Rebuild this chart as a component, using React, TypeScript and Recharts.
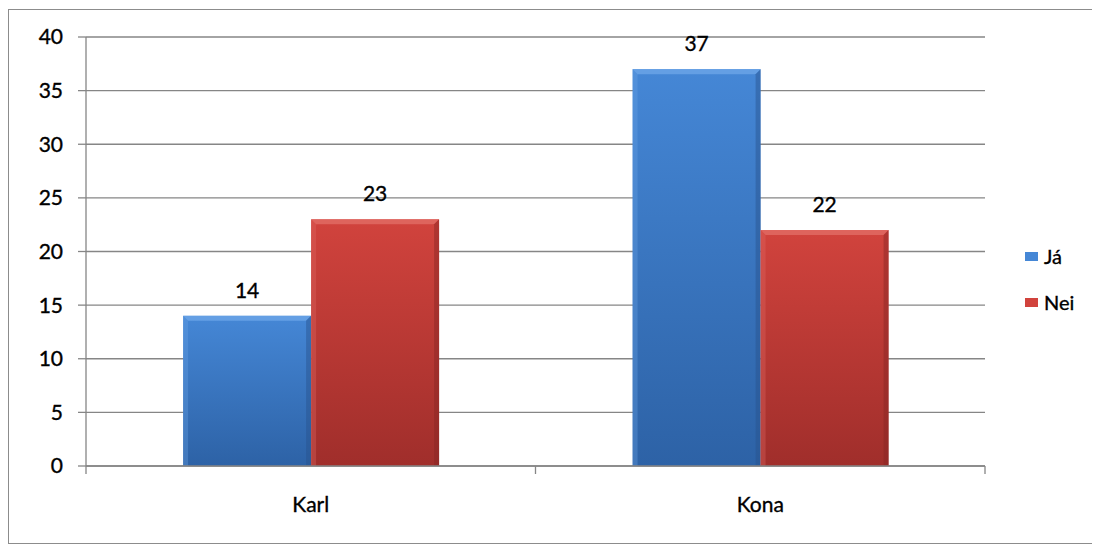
import React from "react";
import { BarChart, Bar, XAxis, YAxis, CartesianGrid, LabelList } from "recharts";

const categories = ["Karl", "Kona"];
const jaValues = [14, 37];
const neiValues = [23, 22];
const yTicks = [0, 5, 10, 15, 20, 25, 30, 35, 40];
const boundaryTicks = [0, 1, 2];
const seriesNames = ["Já", "Nei"];

const data = categories.map((c, i) => ({ name: c, ja: jaValues[i], nei: neiValues[i], pos: i + 0.5 }));

const FONT = "Lato, 'Open Sans', sans-serif";
const AXIS = "#868686";
const FS = 21;

const palettes: Record<string, { top: string; bottom: string; light: string; dark: string }> = {
  ja: { top: "#4587d6", bottom: "#2d62a6", light: "#6aa3e6", dark: "#27538c" },
  nei: { top: "#d1433d", bottom: "#a02e2b", light: "#e06a63", dark: "#862523" },
};

const makeShape = (key: string) => (props: any) => {
  const { x, y, width, height } = props;
  const p = palettes[key];
  const b = Math.min(5, width / 4, height / 4);
  return (
    <g>
      <rect x={x} y={y} width={width} height={height} fill={`url(#grad-${key})`} />
      <polygon points={`${x},${y} ${x + width},${y} ${x + width - b},${y + b} ${x + b},${y + b}`} fill={p.light} opacity={0.85} />
      <polygon points={`${x},${y} ${x + b},${y + b} ${x + b},${y + height} ${x},${y + height}`} fill={p.light} opacity={0.35} />
      <polygon points={`${x + width},${y} ${x + width - b},${y + b} ${x + width - b},${y + height} ${x + width},${y + height}`} fill={p.dark} opacity={0.45} />
    </g>
  );
};

const legendColors = [palettes.ja.top, palettes.nei.top];
const textStyle = { fill: "#000", fontSize: FS, fontFamily: FONT, stroke: "#000", strokeWidth: 0.35 };

export default function App() {
  return (
    <div
      style={{
        position: "relative",
        width: 1090,
        height: 533,
        marginTop: 1,
        border: "1px solid #8c8c8c",
        fontFamily: FONT,
        background: "#fff",
      }}
    >
      <BarChart
        width={1090}
        height={533}
        data={data}
        margin={{ top: 27, right: 114, bottom: 37, left: 0 }}
        barCategoryGap="21.6%"
        barGap={0}
      >
        <defs>
          {Object.keys(palettes).map((k) => (
            <linearGradient key={k} id={`grad-${k}`} x1="0" y1="0" x2="0" y2="1">
              <stop offset="0%" stopColor={palettes[k].top} />
              <stop offset="100%" stopColor={palettes[k].bottom} />
            </linearGradient>
          ))}
        </defs>
        <CartesianGrid vertical={false} stroke={AXIS} strokeWidth={1.3} />
        <XAxis
          xAxisId="bound"
          type="number"
          dataKey="pos"
          domain={[0, 2]}
          ticks={boundaryTicks}
          interval={0}
          tickFormatter={() => ""}
          tick={{ fontSize: 1 }}
          tickSize={8}
          tickLine={{ stroke: AXIS, strokeWidth: 1.3 }}
          axisLine={{ stroke: AXIS, strokeWidth: 1.3 }}
          height={1}
          allowDataOverflow
        />
        <XAxis
          xAxisId="cat"
          dataKey="name"
          tickLine={false}
          axisLine={false}
          tickSize={0}
          tickMargin={30}
          height={39}
          tick={textStyle}
        />
        <YAxis
          domain={[0, 40]}
          ticks={yTicks}
          width={77}
          tickSize={8}
          tickMargin={15}
          interval={0}
          axisLine={{ stroke: AXIS, strokeWidth: 1.3 }}
          tickLine={{ stroke: AXIS, strokeWidth: 1.3 }}
          tick={textStyle}
        />
        <Bar xAxisId="cat" dataKey="ja" name={seriesNames[0]} isAnimationActive={false} shape={makeShape("ja")}>
          <LabelList dataKey="ja" position="top" offset={18} {...textStyle} />
        </Bar>
        <Bar xAxisId="cat" dataKey="nei" name={seriesNames[1]} isAnimationActive={false} shape={makeShape("nei")}>
          <LabelList dataKey="nei" position="top" offset={18} {...textStyle} />
        </Bar>
      </BarChart>
      <div style={{ position: "absolute", left: 1016, top: 235 }}>
        {seriesNames.map((n, i) => (
          <div key={n} style={{ display: "flex", alignItems: "center", height: 22, marginBottom: 24 }}>
            <span
              style={{
                width: 13,
                height: 9,
                background: legendColors[i],
                display: "inline-block",
                marginRight: 6,
              }}
            />
            <span style={{ fontSize: 20, color: "#000", WebkitTextStroke: "0.35px #000" }}>{n}</span>
          </div>
        ))}
      </div>
    </div>
  );
}
